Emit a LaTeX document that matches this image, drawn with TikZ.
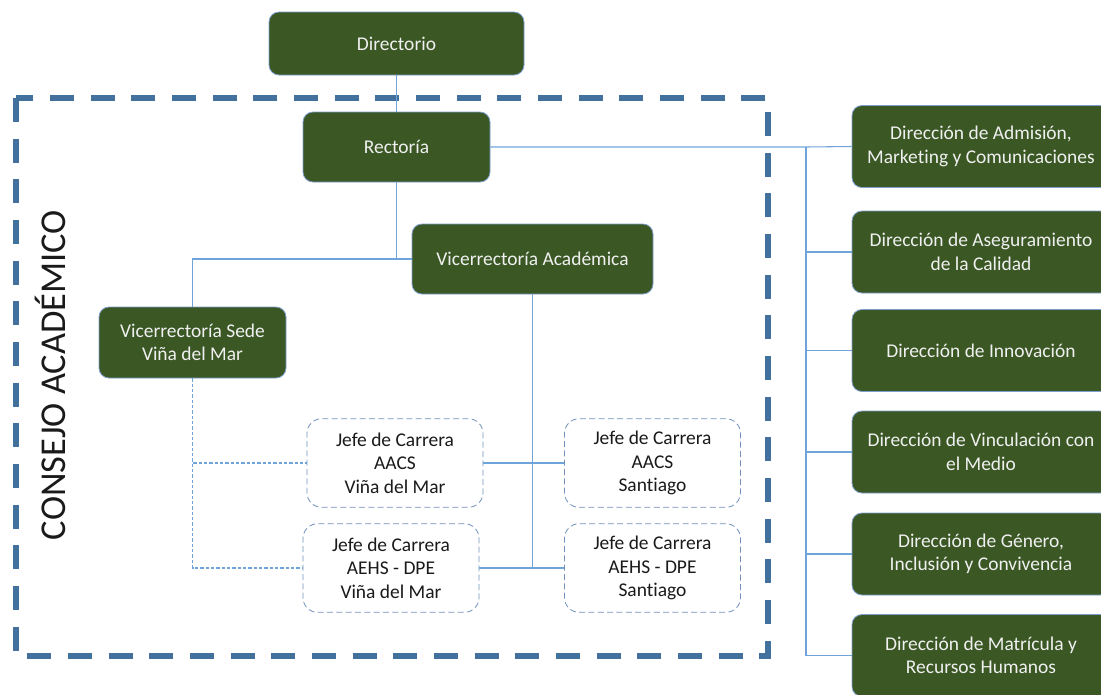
\documentclass[tikz,border=0pt]{standalone}
\usepackage{fontspec}
\setmainfont{Carlito}[Ligatures=NoCommon]
\usepackage{tikz}
\usetikzlibrary{positioning, calc}
\definecolor{boxgreen}{HTML}{3A5724}
\definecolor{boxedge}{HTML}{7F9FCF}
\definecolor{linkblue}{HTML}{6FA4DA}
\definecolor{frameblue}{HTML}{41719C}
\definecolor{jefeedge}{HTML}{7393BD}
\definecolor{darktext}{HTML}{1A1A1A}

\begin{document}
\begin{tikzpicture}[
  x=0.75pt, y=-0.75pt,
  gbox/.style={rectangle, draw=boxedge, line width=0.6pt, fill=boxgreen,
               text=white!94!black, inner sep=0pt, align=center,
               font=\fontsize{14.6}{17.6}\selectfont, rounded corners=7.5pt},
  jbox/.style={rectangle, draw=jefeedge, dash pattern=on 4.5pt off 2.5pt,
               line width=0.6pt, fill=white, text=darktext,
               minimum width=132pt, minimum height=66.5pt, inner sep=0pt,
               align=center, font=\fontsize{14.6}{17.6}\selectfont,
               rounded corners=11pt},
  dbox/.style={gbox, minimum width=193.5pt, minimum height=61.5pt},
  conn/.style={draw=linkblue, line width=0.8pt},
  dconn/.style={conn, dash pattern=on 2.5pt off 1.5pt}
]
\clip (0,0) rectangle (1101,694);

% consejo academico frame
\draw[frameblue, line width=4.5pt, dash pattern=on 18pt off 12.5pt]
  (16,98) rectangle (768,656);
\node[rotate=90, font=\fontsize{27.3}{30}\selectfont, text=darktext] (consejo)
  at (50,375) {CONSEJO ACADÉMICO};

% main line
\node[gbox, minimum width=191.25pt, minimum height=47.25pt] (dir) at (396.5,43.5) {Directorio};
\node[gbox, minimum width=140.25pt, minimum height=52.5pt]  (rec) at (396.5,147) {Rectoría};
\node[gbox, minimum width=180.75pt, minimum height=52.5pt]  (vra) at (532.5,259) {Vicerrectoría Académica};
\node[gbox, minimum width=140.25pt, minimum height=53.25pt] (vsv) at (192.5,342.5) {Vicerrectoría Sede\\Viña del Mar};

% jefes de carrera
\node[jbox] (jav) at (395,463)   {Jefe de Carrera\\AACS\\Viña del Mar};
\node[jbox] (jev) at (391,568)   {Jefe de Carrera\\AEHS - DPE\\Viña del Mar};
\node[jbox] (jas) at (652.5,463) {Jefe de Carrera\\AACS\\Santiago};
\node[jbox] (jes) at (652.5,568) {Jefe de Carrera\\AEHS - DPE\\Santiago};

% direcciones
\node[dbox] (d1) at (981,146.5) {Dirección de Admisión,\\Marketing y Comunicaciones};
\node[dbox] (d2) at (981,252)   {Dirección de Aseguramiento\\de la Calidad};
\node[dbox] (d3) at (981,350.5) {Dirección de Innovación};
\node[dbox] (d4) at (981,452)   {Dirección de Vinculación con\\el Medio};
\node[dbox] (d5) at (981,554)   {Dirección de Género,\\Inclusión y Convivencia};
\node[dbox] (d6) at (981,655.5) {Dirección de Matrícula y\\Recursos Humanos};

% connectors
\draw[conn] (dir) -- (rec);
\draw[conn] (rec.south) |- (vra.west);
\draw[conn] (vra.west) -| (vsv.north);
\draw[dconn] (vsv.south) |- (jav.west);
\draw[dconn] (vsv.south) |- (jev.west);
\draw[conn] (vra.south) |- (jav.east);
\draw[conn] (vra.south) |- (jev.east);
\draw[conn] (vra.south) |- (jas.west);
\draw[conn] (vra.south) |- (jes.west);

\coordinate (bus) at (806,147);
\draw[conn] (rec.east) -- (bus) -- (d1.west);
\foreach \i in {2,...,6}
  \draw[conn] (bus) |- (d\i.west);
\end{tikzpicture}
\end{document}
